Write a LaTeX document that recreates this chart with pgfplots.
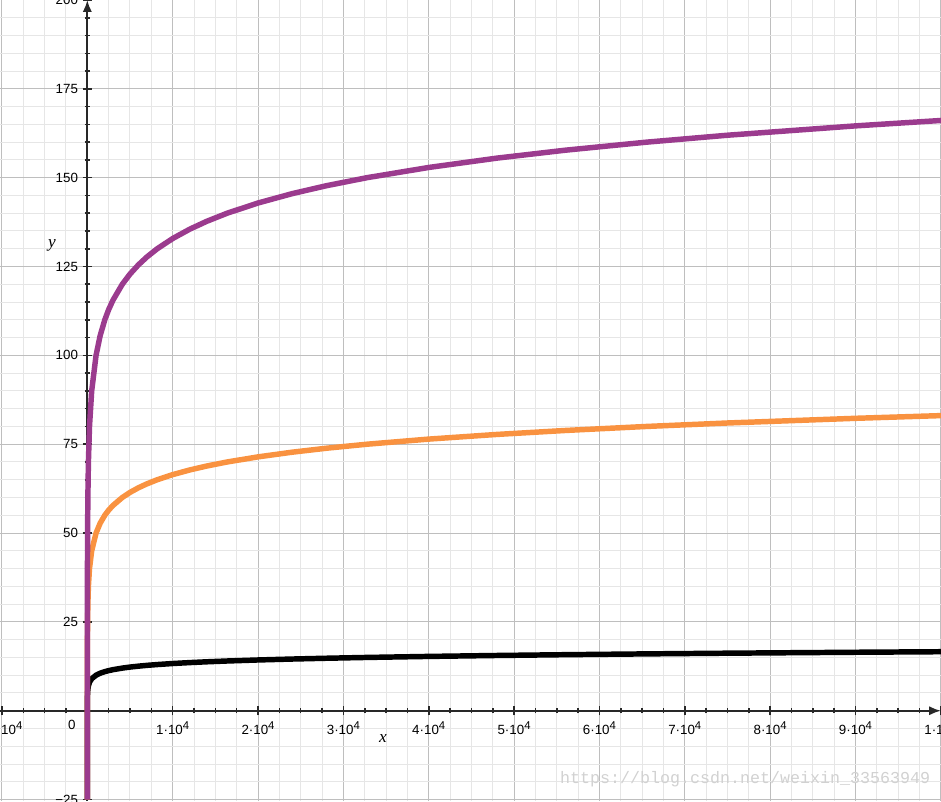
\documentclass[border=0pt]{standalone}
\usepackage{fontspec}
\setmainfont{Liberation Sans}
\newfontfamily\timesfont{Liberation Serif}
\newfontfamily\monofont{Liberation Mono}
\usepackage{pgfplots}
\pgfplotsset{compat=1.18}
\usetikzlibrary{arrows.meta}
\definecolor{cpurple}{RGB}{155,59,142}
\definecolor{corange}{RGB}{249,146,64}
\definecolor{majgrid}{RGB}{190,190,190}
\definecolor{mingrid}{RGB}{230,230,230}
\definecolor{axcol}{RGB}{40,40,40}
\newcommand{\sq}[1]{\raisebox{0.42em}{\fontsize{8.5}{9}\selectfont #1}}
\begin{document}
\begin{tikzpicture}
\begin{axis}[name=ax, scale only axis, width=705.75pt, height=600.75pt,
  xmin=-10230, xmax=100020, ymin=-25.4, ymax=200,
  axis lines=middle,
  axis line style={line width=1.5pt, color=axcol, -{Latex[length=9pt,width=7pt]}},
  grid=both,
  major grid style={majgrid, line width=0.75pt},
  minor grid style={mingrid, line width=0.75pt},
  scaled x ticks=false, scaled y ticks=false,
  xtick={-10000,0,10000,20000,30000,40000,50000,60000,70000,80000,90000,100000},
  xticklabels={−1·10\sq{4},{},1·10\sq{4},2·10\sq{4},3·10\sq{4},4·10\sq{4},5·10\sq{4},6·10\sq{4},7·10\sq{4},8·10\sq{4},9·10\sq{4},1·10\sq{5}},
  ytick={-25,0,25,50,75,100,125,150,175,200},
  yticklabels={−25,{},25,50,75,100,125,150,175,200},
  minor x tick num=3, minor y tick num=4,
  tick align=center, major tick length=7pt, minor tick length=4pt,
  tick style={axcol, line width=1.2pt},
  ticklabel style={font=\fontsize{10}{11}\selectfont},
  xticklabel style={anchor=north, yshift=-1pt},
  yticklabel style={anchor=east, xshift=0pt},
  clip=true,
]
\addplot[black, line width=4.1pt, line join=round] coordinates {
(2.98e-8,-25) (1.526e-5,-16) (0.0039,-8) (0.0625,-4) (0.25,-2) (0.5,-1) (1,0) (2,1) (4,2) (8,3) (16,4) (32,5) (64,6) (128,7) (256,8) (512,9) (1024,10)
(1500,10.5507) (2048,11) (2500,11.2877) (3000,11.5507) (4096,12) (5000,12.2877) (6000,12.5507) (7000,12.7732) (8192,13) (10000,13.2877) (12000,13.5507) (14000,13.7732) (16384,14) (20000,14.2877) (24000,14.5507) (28000,14.7732) (32768,15) (40000,15.2877) (48000,15.5507) (56000,15.7732) (65536,16) (75000,16.1946) (90000,16.4576) (100000,16.6096) (100500,16.6168)
};
\addplot[corange, line width=4.1pt, line join=round] coordinates {
(0.03125,-25) (0.0625,-20) (0.125,-15) (0.25,-10) (0.5,-5) (1,0) (2,5) (4,10) (8,15) (16,20) (32,25) (64,30) (128,35) (256,40) (512,45) (1024,50)
(1500,52.754) (2048,55) (2500,56.439) (3000,57.754) (4096,60) (5000,61.439) (6000,62.754) (7000,63.866) (8192,65) (10000,66.439) (12000,67.754) (14000,68.866) (16384,70) (20000,71.439) (24000,72.754) (28000,73.866) (32768,75) (40000,76.439) (48000,77.754) (56000,78.866) (65536,80) (75000,80.973) (90000,82.288) (100000,83.048) (100500,83.084)
};
\addplot[cpurple, line width=4.1pt, line join=round] coordinates {
(0.17678,-25) (0.25,-20) (0.5,-10) (1,0) (2,10) (4,20) (8,30) (16,40) (32,50) (64,60) (128,70) (256,80) (512,90) (1024,100)
(1500,105.507) (2048,110) (2500,112.877) (3000,115.507) (4096,120) (5000,122.877) (6000,125.507) (7000,127.732) (8192,130) (10000,132.877) (12000,135.507) (14000,137.732) (16384,140) (20000,142.877) (24000,145.507) (28000,147.732) (32768,150) (40000,152.877) (48000,155.507) (56000,157.732) (65536,160) (75000,161.946) (90000,164.576) (100000,166.096) (100500,166.168)
};
\node[font=\fontsize{10}{11}\selectfont] at (axis cs:-1800,-4.0) {0};
\node[font=\fontsize{13}{15}\selectfont\timesfont\itshape] at (axis cs:34645,-7.7) {x};
\node[font=\fontsize{13}{15}\selectfont\timesfont\itshape] at (axis cs:-4136,130.9) {y};
\node[font=\fontsize{12.5}{14}\selectfont\monofont, text=black!18] at (axis cs:77060,-19.2) {https://blog.csdn.net/weixin\_33563949};
\end{axis}
\pgfresetboundingbox
\path[use as bounding box] (ax.south west) rectangle (ax.north east);
\end{tikzpicture}
\end{document}
